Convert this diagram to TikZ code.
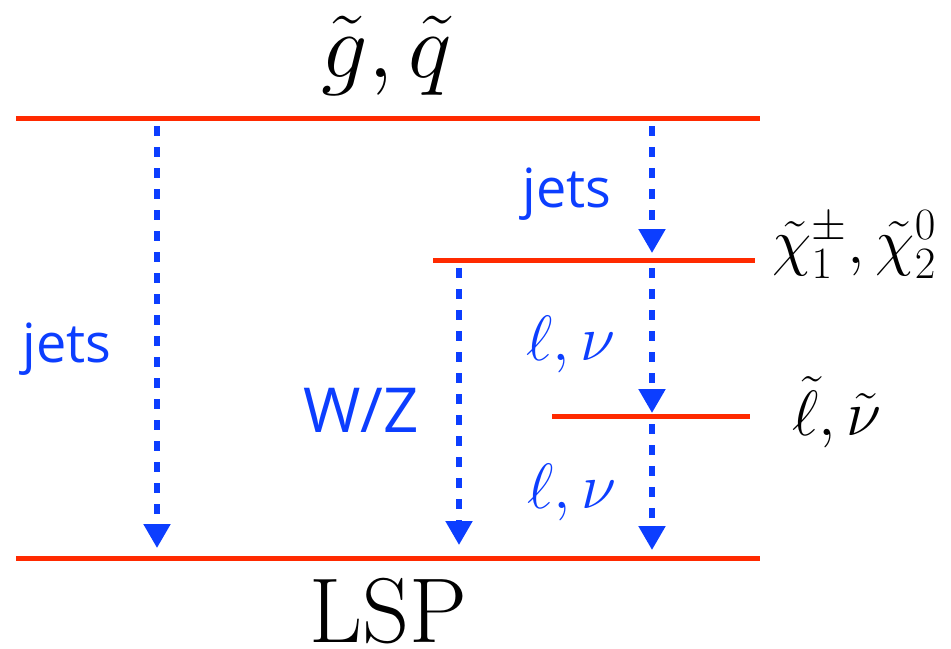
\RequirePackage{fix-cm}
\documentclass[tikz,border=0pt]{standalone}
\usepackage{fontspec}
\newfontfamily\labelfont{Open Sans}
\usetikzlibrary{arrows.meta}

\definecolor{levelred}{RGB}{255,42,0}
\definecolor{decayblue}{RGB}{12,62,255}

\tikzset{
  level/.style={draw=levelred, line width=2.5pt},
  decay/.style={draw=decayblue, line width=2.6pt, dash pattern=on 5pt off 5.5pt,
    -{Triangle[width=13pt,length=12pt]}},
  bigmath/.style={inner sep=0pt, anchor=base, font=\fontsize{46}{50}\selectfont},
  midmath/.style={inner sep=0pt, anchor=base west, font=\fontsize{32}{36}\selectfont},
  decaymath/.style={inner sep=0pt, anchor=base, text=decayblue, font=\fontsize{32}{36}\selectfont},
  decaytext/.style={inner sep=0pt, anchor=base, text=decayblue, font=\labelfont\fontsize{27}{31}\selectfont},
}

\begin{document}
\begin{tikzpicture}[x=0.5pt, y=-0.5pt]
  \useasboundingbox (0,0) rectangle (951,648);

  % mass levels
  \coordinate (topL) at (16,118.5);  \coordinate (topR) at (760,118.5);
  \coordinate (chiL) at (433,260);   \coordinate (chiR) at (755,260);
  \coordinate (slL)  at (552,416);   \coordinate (slR)  at (750,416);
  \coordinate (lspL) at (16,558);    \coordinate (lspR) at (760,558);

  \draw[level] (topL) -- (topR);
  \draw[level] (chiL) -- (chiR);
  \draw[level] (slL) -- (slR);
  \draw[level] (lspL) -- (lspR);

  % decay arrow end points
  \coordinate (a1s) at (157,126); \coordinate (a1e) at (157,548);
  \coordinate (a2s) at (459,268); \coordinate (a2e) at (459,545);
  \coordinate (a3s) at (652,126); \coordinate (a3e) at (652,253);
  \coordinate (a4s) at (652,268); \coordinate (a4e) at (652,413);
  \coordinate (a5s) at (652,424); \coordinate (a5e) at (652,550);

  \draw[decay] (a1s) -- (a1e);
  \draw[decay] (a2s) -- (a2e);
  \draw[decay] (a3s) -- (a3e);
  \draw[decay] (a4s) -- (a4e);
  \draw[decay] (a5s) -- (a5e);

  % level labels
  \node[bigmath] (gq)  at (387,77)  {$\tilde g,\tilde q$};
  \node[bigmath] (lsp) at (388,642) {LSP};
  \node[midmath] (chi) at (772,263) {$\tilde\chi_1^\pm,\tilde\chi_2^0$};
  \node[midmath] (sl)  at (792,435) {$\tilde\ell,\tilde\nu$};

  % decay product labels
  \node[decaytext] (jetsL) at (67,362)  {jets};
  \node[decaytext] (jetsR) at (567,207) {jets};
  \node[decaytext, font=\labelfont\fontsize{31}{35}\selectfont] (wz) at (361,432) {W/Z};
  \node[decaymath] (lnu1)  at (571,360) {$\ell,\nu$};
  \node[decaymath] (lnu2)  at (572,508) {$\ell,\nu$};
\end{tikzpicture}
\end{document}
